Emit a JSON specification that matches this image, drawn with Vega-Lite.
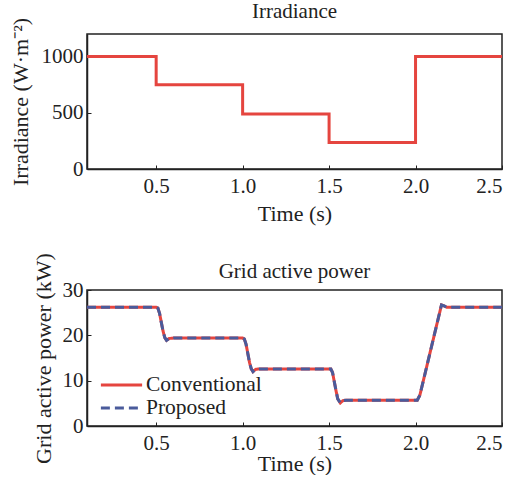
{
  "$schema": "https://vega.github.io/schema/vega-lite/v6.json",
  "background": "white",
  "padding": {"left": 8, "top": 0, "right": 0, "bottom": 0},
  "spacing": 26,
  "resolve": {"legend": {"color": "independent", "strokeDash": "independent"}},
  "config": {
    "font": "Liberation Serif",
    "view": {"stroke": "#222", "strokeWidth": 1.5},
    "title": {"fontSize": 21, "fontWeight": "normal", "color": "#222", "offset": 0},
    "axis": {
      "labelFontSize": 21, "titleFontSize": 22, "titleFontWeight": "normal",
      "labelColor": "#222", "titleColor": "#222", "domainColor": "#222", "tickColor": "#222",
      "grid": false, "tickSize": -4, "domain": true, "domainWidth": 1.5, "labelPadding": 8
    },
    "legend": {"labelFontSize": 21.5, "labelColor": "#222"}
  },
  "vconcat": [
    {
      "title": {"text": "Irradiance", "offset": -5},
      "width": 415,
      "height": 135,
      "data": {"values": [
        {"t": 0.1, "g": 1000}, {"t": 0.5, "g": 1000}, {"t": 0.5, "g": 750}, {"t": 1.0, "g": 750},
        {"t": 1.0, "g": 490}, {"t": 1.5, "g": 490}, {"t": 1.5, "g": 235}, {"t": 2.0, "g": 235},
        {"t": 2.0, "g": 1000}, {"t": 2.5, "g": 1000}
      ]},
      "mark": {"type": "line", "color": "#e5453f", "strokeWidth": 3, "clip": true},
      "encoding": {
        "x": {"field": "t", "type": "quantitative", "scale": {"domain": [0.1, 2.5], "nice": false, "zero": false},
              "axis": {"values": [0.5, 1.0, 1.5, 2.0, 2.5], "format": ".1f", "title": "Time (s)", "labelPadding": 10, "titlePadding": 7}},
        "y": {"field": "g", "type": "quantitative", "scale": {"domain": [0, 1200], "nice": false},
              "axis": {"values": [0, 500, 1000], "format": "d", "title": "Irradiance (W·m⁻²)", "titlePadding": 9}}
      }
    },
    {
      "title": {"text": "Grid active power", "offset": -29},
      "width": 415,
      "height": 136,
      "data": {"values": [
        {"s": "Conventional", "t": 0.1, "p": 26.2}, {"s": "Conventional", "t": 0.5, "p": 26.2},
        {"s": "Conventional", "t": 0.51, "p": 26.0}, {"s": "Conventional", "t": 0.52, "p": 24.8},
        {"s": "Conventional", "t": 0.53, "p": 22.8}, {"s": "Conventional", "t": 0.54, "p": 20.9},
        {"s": "Conventional", "t": 0.55, "p": 19.5}, {"s": "Conventional", "t": 0.56, "p": 18.9},
        {"s": "Conventional", "t": 0.575, "p": 19.3}, {"s": "Conventional", "t": 0.6, "p": 19.4},
        {"s": "Conventional", "t": 1.0, "p": 19.4}, {"s": "Conventional", "t": 1.01, "p": 19.2},
        {"s": "Conventional", "t": 1.02, "p": 18.0}, {"s": "Conventional", "t": 1.03, "p": 16.0},
        {"s": "Conventional", "t": 1.04, "p": 14.0}, {"s": "Conventional", "t": 1.05, "p": 12.6},
        {"s": "Conventional", "t": 1.06, "p": 12.0}, {"s": "Conventional", "t": 1.075, "p": 12.5},
        {"s": "Conventional", "t": 1.1, "p": 12.6}, {"s": "Conventional", "t": 1.51, "p": 12.6},
        {"s": "Conventional", "t": 1.52, "p": 11.8}, {"s": "Conventional", "t": 1.53, "p": 9.8},
        {"s": "Conventional", "t": 1.54, "p": 7.8}, {"s": "Conventional", "t": 1.55, "p": 6.0},
        {"s": "Conventional", "t": 1.565, "p": 5.1}, {"s": "Conventional", "t": 1.58, "p": 5.6},
        {"s": "Conventional", "t": 1.6, "p": 5.7}, {"s": "Conventional", "t": 2.01, "p": 5.7},
        {"s": "Conventional", "t": 2.025, "p": 6.8}, {"s": "Conventional", "t": 2.15, "p": 26.7},
        {"s": "Conventional", "t": 2.165, "p": 26.5}, {"s": "Conventional", "t": 2.18, "p": 26.2},
        {"s": "Conventional", "t": 2.5, "p": 26.2},
        {"s": "Proposed", "t": 0.1, "p": 26.2}, {"s": "Proposed", "t": 0.5, "p": 26.2},
        {"s": "Proposed", "t": 0.51, "p": 26.0}, {"s": "Proposed", "t": 0.52, "p": 24.8},
        {"s": "Proposed", "t": 0.53, "p": 22.8}, {"s": "Proposed", "t": 0.54, "p": 20.9},
        {"s": "Proposed", "t": 0.55, "p": 19.5}, {"s": "Proposed", "t": 0.56, "p": 18.9},
        {"s": "Proposed", "t": 0.575, "p": 19.3}, {"s": "Proposed", "t": 0.6, "p": 19.4},
        {"s": "Proposed", "t": 1.0, "p": 19.4}, {"s": "Proposed", "t": 1.01, "p": 19.2},
        {"s": "Proposed", "t": 1.02, "p": 18.0}, {"s": "Proposed", "t": 1.03, "p": 16.0},
        {"s": "Proposed", "t": 1.04, "p": 14.0}, {"s": "Proposed", "t": 1.05, "p": 12.6},
        {"s": "Proposed", "t": 1.06, "p": 12.0}, {"s": "Proposed", "t": 1.075, "p": 12.5},
        {"s": "Proposed", "t": 1.1, "p": 12.6}, {"s": "Proposed", "t": 1.51, "p": 12.6},
        {"s": "Proposed", "t": 1.52, "p": 11.8}, {"s": "Proposed", "t": 1.53, "p": 9.8},
        {"s": "Proposed", "t": 1.54, "p": 7.8}, {"s": "Proposed", "t": 1.55, "p": 6.0},
        {"s": "Proposed", "t": 1.565, "p": 5.1}, {"s": "Proposed", "t": 1.58, "p": 5.6},
        {"s": "Proposed", "t": 1.6, "p": 5.7}, {"s": "Proposed", "t": 2.01, "p": 5.7},
        {"s": "Proposed", "t": 2.025, "p": 6.8}, {"s": "Proposed", "t": 2.15, "p": 26.7},
        {"s": "Proposed", "t": 2.165, "p": 26.5}, {"s": "Proposed", "t": 2.18, "p": 26.2},
        {"s": "Proposed", "t": 2.5, "p": 26.2}
      ]},
      "mark": {"type": "line", "strokeWidth": 3, "clip": true},
      "encoding": {
        "x": {"field": "t", "type": "quantitative", "scale": {"domain": [0.1, 2.5], "nice": false, "zero": false},
              "axis": {"values": [0.5, 1.0, 1.5, 2.0, 2.5], "format": ".1f", "title": "Time (s)", "labelPadding": 10, "titlePadding": 0}},
        "y": {"field": "p", "type": "quantitative", "scale": {"domain": [0, 30], "nice": false},
              "axis": {"values": [0, 10, 20, 30], "title": "Grid active power (kW)", "titlePadding": 7}},
        "color": {"field": "s", "type": "nominal", "title": null,
                  "scale": {"domain": ["Conventional", "Proposed"], "range": ["#e5453f", "#4a5b9b"]},
                  "legend": {"orient": "none", "legendX": 12, "legendY": 84, "symbolType": "stroke",
                             "symbolSize": 1700, "symbolStrokeWidth": 3, "clipHeight": 22, "rowPadding": 1, "labelOffset": 2}},
        "strokeDash": {"field": "s", "type": "nominal", "title": null,
                       "scale": {"domain": ["Conventional", "Proposed"], "range": [[1, 0], [9, 5]]},
                       "legend": {"orient": "none", "legendX": 12, "legendY": 84, "symbolType": "stroke",
                                  "symbolSize": 1700, "symbolStrokeWidth": 3, "clipHeight": 22, "rowPadding": 1, "labelOffset": 2}}
      }
    }
  ]
}
